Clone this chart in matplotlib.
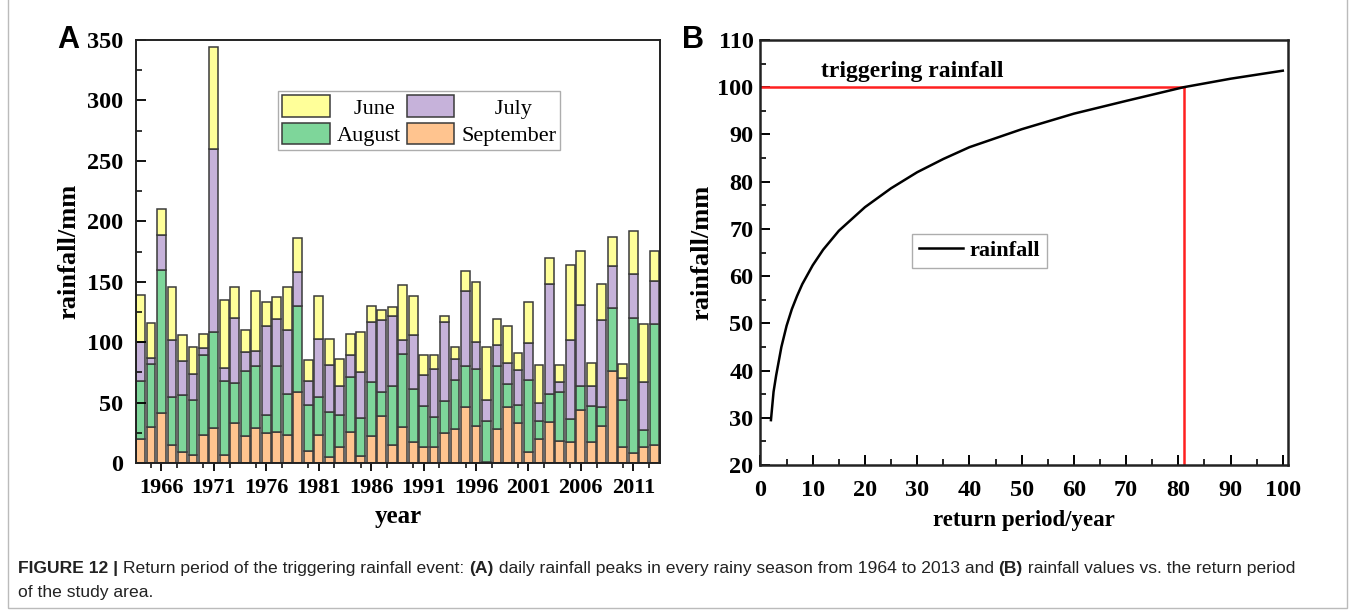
import matplotlib
matplotlib.use("Agg")
import matplotlib.pyplot as plt
from matplotlib.patches import Rectangle, Patch
from matplotlib.ticker import MultipleLocator

# ---------------- data ----------------
years = list(range(1964, 2014))
september = [20, 30, 41, 15, 9, 7, 23, 29, 7, 33, 22, 29, 25, 26, 23, 59, 10, 23, 5, 13,
             26, 6, 22, 39, 15, 30, 17, 13, 13, 25, 28, 46, 31, 1, 28, 46, 33, 9, 20, 34,
             18, 17, 44, 17, 31, 76, 13, 8, 13, 15]
august = [48, 52, 119, 40, 47, 45, 66, 79, 61, 33, 54, 51, 15, 54, 34, 71, 38, 32, 37, 27,
          45, 31, 45, 20, 49, 60, 44, 34, 25, 26, 41, 34, 47, 34, 52, 19, 15, 60, 15, 23,
          41, 19, 20, 30, 15, 52, 39, 112, 14, 100]
july = [32, 5, 29, 47, 28, 22, 6, 152, 11, 54, 16, 13, 73, 39, 53, 28, 20, 48, 39, 24,
        18, 38, 50, 59, 58, 12, 45, 26, 40, 66, 17, 62, 22, 17, 18, 18, 29, 30, 15, 91,
        8, 66, 67, 17, 72, 35, 18, 36, 40, 36]
june = [39, 29, 21, 44, 22, 22, 12, 84, 56, 26, 18, 49, 20, 18, 36, 28, 17, 35, 22, 22,
        18, 33, 13, 9, 7, 45, 32, 16, 11, 5, 10, 17, 50, 44, 21, 30, 14, 34, 31, 22,
        14, 62, 44, 19, 30, 24, 12, 36, 48, 24]
month_names = ["June", "July", "August", "September"]
year_ticks = [1966, 1971, 1976, 1981, 1986, 1991, 1996, 2001, 2006, 2011]

return_period = [2, 2.5, 3, 4, 5, 6, 7, 8, 10, 12, 15, 20, 25, 30, 35, 40, 50, 60, 70, 81, 90, 100]
rainfall = [29.5, 35.5, 39.0, 45.0, 49.5, 53.0, 55.8, 58.3, 62.3, 65.6, 69.6, 74.6, 78.6,
            82.0, 84.8, 87.3, 91.1, 94.4, 97.1, 100.0, 101.8, 103.5]
trigger_rain = 100
trigger_T = 81

# ---------------- style ----------------
c_june = "#FFFF99"
c_july = "#C6B2DA"
c_aug = "#7ED69A"
c_sep = "#FFC48F"
edge = "#3a3a3a"
serif = "Liberation Serif"

fig = plt.figure(figsize=(13.55, 6.16), dpi=100)

# ---------------- panel A ----------------
axA = fig.add_axes([136/1355, 1-463/616, 524/1355, 423/616])
w = 0.84
b1 = september
b2 = [s + a for s, a in zip(september, august)]
b3 = [x + j for x, j in zip(b2, july)]
kw = dict(width=w, edgecolor=edge, linewidth=1.1)
axA.bar(years, september, color=c_sep, **kw)
axA.bar(years, august, bottom=b1, color=c_aug, **kw)
axA.bar(years, july, bottom=b2, color=c_july, **kw)
axA.bar(years, june, bottom=b3, color=c_june, **kw)
axA.set_xlim(1963.57, 2013.55)
axA.set_ylim(0, 350)
axA.set_xticks(year_ticks)
axA.xaxis.set_minor_locator(MultipleLocator(2.5))
axA.yaxis.set_major_locator(MultipleLocator(50))
axA.yaxis.set_minor_locator(MultipleLocator(25))
axA.tick_params(axis="x", which="major", direction="out", length=6, width=1.3, pad=5)
axA.tick_params(axis="x", which="minor", direction="out", length=3.5, width=1.1)
axA.tick_params(axis="y", which="major", direction="in", length=7, width=1.3, pad=9)
axA.tick_params(axis="y", which="minor", direction="in", length=4, width=1.1)
for lab in axA.get_xticklabels():
    lab.set_fontfamily(serif)
    lab.set_fontweight("bold")
    lab.set_fontsize(16)
for lab in axA.get_yticklabels():
    lab.set_fontfamily(serif)
    lab.set_fontweight("bold")
    lab.set_fontsize(17.5)
for sp in axA.spines.values():
    sp.set_linewidth(1.4)
    sp.set_color("#222222")
axA.set_xlabel("year", fontfamily=serif, fontweight="bold", fontsize=18, labelpad=5)
axA.set_ylabel("rainfall/mm", fontfamily=serif, fontweight="bold", fontsize=19, labelpad=5)
handles = [Patch(facecolor=c_june, edgecolor=edge, linewidth=1.1),
           Patch(facecolor=c_aug, edgecolor=edge, linewidth=1.1),
           Patch(facecolor=c_july, edgecolor=edge, linewidth=1.1),
           Patch(facecolor=c_sep, edgecolor=edge, linewidth=1.1)]
labels = ["   " + month_names[0], month_names[2], "      " + month_names[1], month_names[3]]
legA = axA.legend(handles, labels, ncol=2, loc="upper left",
                  bbox_to_anchor=((278-136)/524, (463-91)/423),
                  prop={"family": serif, "size": 16}, frameon=True, fancybox=False,
                  edgecolor="#999999", handlelength=2.15, handleheight=1.1,
                  handletextpad=0.3, columnspacing=0.25, labelspacing=0.18,
                  borderpad=0.2, borderaxespad=0)
legA.get_frame().set_linewidth(1.0)
fig.text(57/1355, 1-40/616, "A", fontfamily="Liberation Sans", fontweight="bold",
         fontsize=22, va="center", ha="left")

# ---------------- panel B ----------------
axB = fig.add_axes([760.5/1355, 1-465/616, 527.5/1355, 425/616])
axB.plot([0, trigger_T], [trigger_rain, trigger_rain], color="#FF2020", lw=1.8)
axB.plot([trigger_T, trigger_T], [20, trigger_rain], color="#FF2020", lw=1.8)
axB.plot(return_period, rainfall, color="black", lw=1.8, label="rainfall")
axB.set_xlim(0, 101)
axB.set_ylim(20, 110)
axB.xaxis.set_major_locator(MultipleLocator(10))
axB.xaxis.set_minor_locator(MultipleLocator(5))
axB.yaxis.set_major_locator(MultipleLocator(10))
axB.yaxis.set_minor_locator(MultipleLocator(5))
axB.tick_params(which="major", direction="in", length=7, width=1.4)
axB.tick_params(which="minor", direction="in", length=4, width=1.2)
axB.tick_params(axis="x", pad=11)
axB.tick_params(axis="y", pad=5)
for lab in axB.get_xticklabels() + axB.get_yticklabels():
    lab.set_fontfamily(serif)
    lab.set_fontweight("bold")
    lab.set_fontsize(17.5)
for sp in axB.spines.values():
    sp.set_linewidth(1.8)
    sp.set_color("#222222")
axB.set_xlabel("return period/year", fontfamily=serif, fontweight="bold", fontsize=16.5, labelpad=6)
axB.set_ylabel("rainfall/mm", fontfamily=serif, fontweight="bold", fontsize=19, labelpad=3)
axB.text(29, 103.3, "triggering rainfall", fontfamily=serif, fontweight="bold",
         fontsize=17, ha="center", va="center")
legB = axB.legend(loc="upper left", bbox_to_anchor=((912-760.5)/527.5, (465-234)/425),
                  prop={"family": serif, "size": 16, "weight": "bold"}, frameon=True,
                  fancybox=False, edgecolor="#999999", handlelength=2.0,
                  handletextpad=0.3, borderpad=0.3, borderaxespad=0)
legB.get_frame().set_linewidth(1.0)
fig.text(682/1355, 1-40/616, "B", fontfamily="Liberation Sans", fontweight="bold",
         fontsize=22, va="center", ha="left")

# ---------------- caption ----------------
fig.add_artist(Rectangle((8/1355, 8/616), 1339/1355, 1-8/616 + 0.01,
                         transform=fig.transFigure, fill=False, edgecolor="#bbbbbb",
                         linewidth=1.0))
renderer = fig.canvas.get_renderer()
cap_font = "Liberation Sans"
cap_size = 12.6
parts = [("FIGURE 12 | ", "bold"), ("Return period of the triggering rainfall event: ", "normal"),
         ("(A)", "bold"), (" daily rainfall peaks in every rainy season from 1964 to 2013 and ", "normal"),
         ("(B)", "bold"), (" rainfall values vs. the return period", "normal")]
x = 18
y1 = 1 - 569/616
for txt, wt in parts:
    t = fig.text(x/1355, y1, txt, fontfamily=cap_font, fontweight=wt, fontsize=cap_size,
                 va="center", ha="left", color="#222222")
    bb = t.get_window_extent(renderer)
    x += bb.width
fig.text(18/1355, 1-593/616, "of the study area.", fontfamily=cap_font, fontsize=cap_size,
         va="center", ha="left", color="#222222")

fig.savefig("out.png", dpi=100)
